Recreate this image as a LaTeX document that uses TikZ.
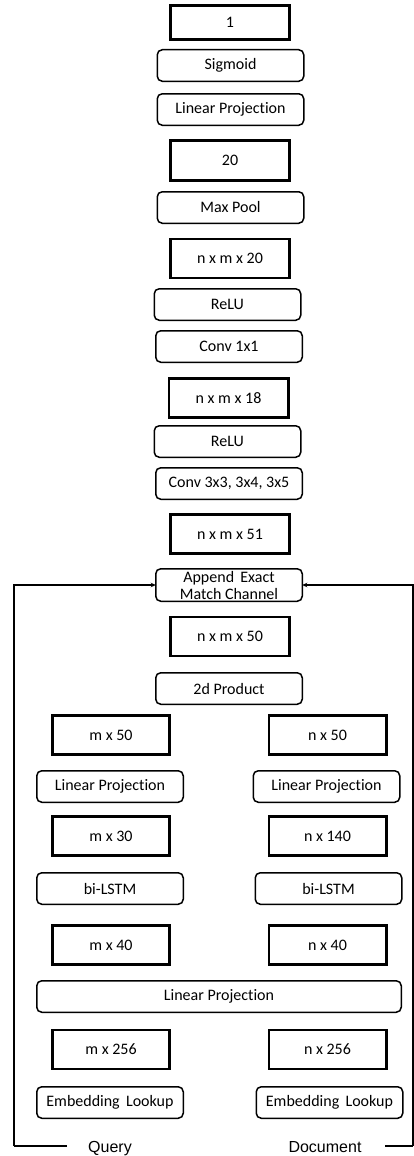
\documentclass[tikz,border=0pt]{standalone}
\usepackage{fontspec}
\setmainfont[Ligatures=NoCommon]{Carlito}
\newfontfamily\arialfont{Liberation Sans}
\usetikzlibrary{arrows.meta}
\begin{document}
\begin{tikzpicture}[x=1pt,y=-1pt,
  tbox/.style={draw, line width=2.8pt, minimum width=117.2pt, minimum height=39pt, inner sep=0pt, outer sep=0pt, font=\fontsize{16}{18}\selectfont},
  rbox/.style={draw, line width=1.5pt, rounded corners=5pt, minimum width=146.5pt, minimum height=31.5pt, inner sep=0pt, outer sep=0pt, font=\fontsize{16}{18}\selectfont},
  conn/.style={line width=1.3pt},
  arr/.style={line width=1.3pt, -{Stealth[length=5pt,width=4.5pt]}},
  lbl/.style={font=\arialfont\fontsize{16}{18}\selectfont, inner sep=0pt, anchor=base}]
\useasboundingbox (0,0) rectangle (414,1156);
% center column
\node[tbox, minimum width=119.2pt, minimum height=34.2pt] (b1) at (230,22.5) {1};
\node[rbox] (sig) at (230.5,65.5) {Sigmoid};
\node[rbox] (lp1) at (230.5,109.5) {Linear Projection};
\node[tbox, minimum width=119.2pt, minimum height=40.2pt] (b20) at (230,160.5) {20};
\node[rbox] (mp) at (230.5,207.5) {Max Pool};
\node[tbox, minimum width=119.2pt] (bnm20) at (230,258.5) {n x m x 20};
\node[rbox] (relu1) at (227.5,304.5) {ReLU};
\node[rbox] (conv1) at (229,346.5) {Conv 1x1};
\node[tbox, minimum width=119.2pt] (bnm18) at (228.5,398) {n x m x 18};
\node[rbox] (relu2) at (227.5,441.5) {ReLU};
\node[rbox] (conv3) at (229,483.5) {Conv 3x3, 3x4, 3x5};
\node[tbox, minimum width=119.2pt] (bnm51) at (230,534) {n x m x 51};
\node[rbox, minimum height=32.5pt, align=center, font=\fontsize{16}{17}\selectfont] (app) at (229,585) {Append\, Exact\\Match Channel};
\node[tbox, minimum width=119.2pt] (bnm50) at (230,636.5) {n x m x 50};
\node[rbox] (prod) at (229,688.5) {2d Product};
% side columns
\node[tbox] (m50) at (111,735) {m x 50};
\node[tbox] (n50) at (327.5,735) {n x 50};
\node[rbox] (lpl) at (110,786.5) {Linear Projection};
\node[rbox] (lpr) at (326.5,786.5) {Linear Projection};
\node[tbox] (m30) at (111,836) {m x 30};
\node[tbox] (n140) at (327.5,836) {n x 140};
\node[rbox] (lstml) at (110,888.5) {bi-LSTM};
\node[rbox] (lstmr) at (328.5,888.5) {bi-LSTM};
\node[tbox] (m40) at (111,945) {m x 40};
\node[tbox] (n40) at (327.5,945) {n x 40};
\node[rbox, minimum width=364.5pt] (lpw) at (219,996.5) {Linear Projection};
\node[tbox] (m256) at (111,1049.5) {m x 256};
\node[tbox] (n256) at (327.5,1049.5) {n x 256};
\node[rbox] (embl) at (110,1102.5) {Embedding\, Lookup};
\node[rbox] (embr) at (329.5,1102.5) {Embedding\, Lookup};
% inputs
\node[lbl] (query) at (110,1152) {Query};
\node[lbl] (doc) at (325,1152) {Document};
\coordinate (ql) at (14,1146);
\coordinate (qe) at (67,1146);
\coordinate (de) at (385,1146);
\coordinate (dr) at (413,1146);
\draw[conn] (qe) -- (ql);
\draw[arr] (ql) -- (ql |- app.west) -- (app.west);
\draw[conn] (de) -- (dr);
\draw[arr] (dr) -- (dr |- app.east) -- (app.east);
\end{tikzpicture}
\end{document}
